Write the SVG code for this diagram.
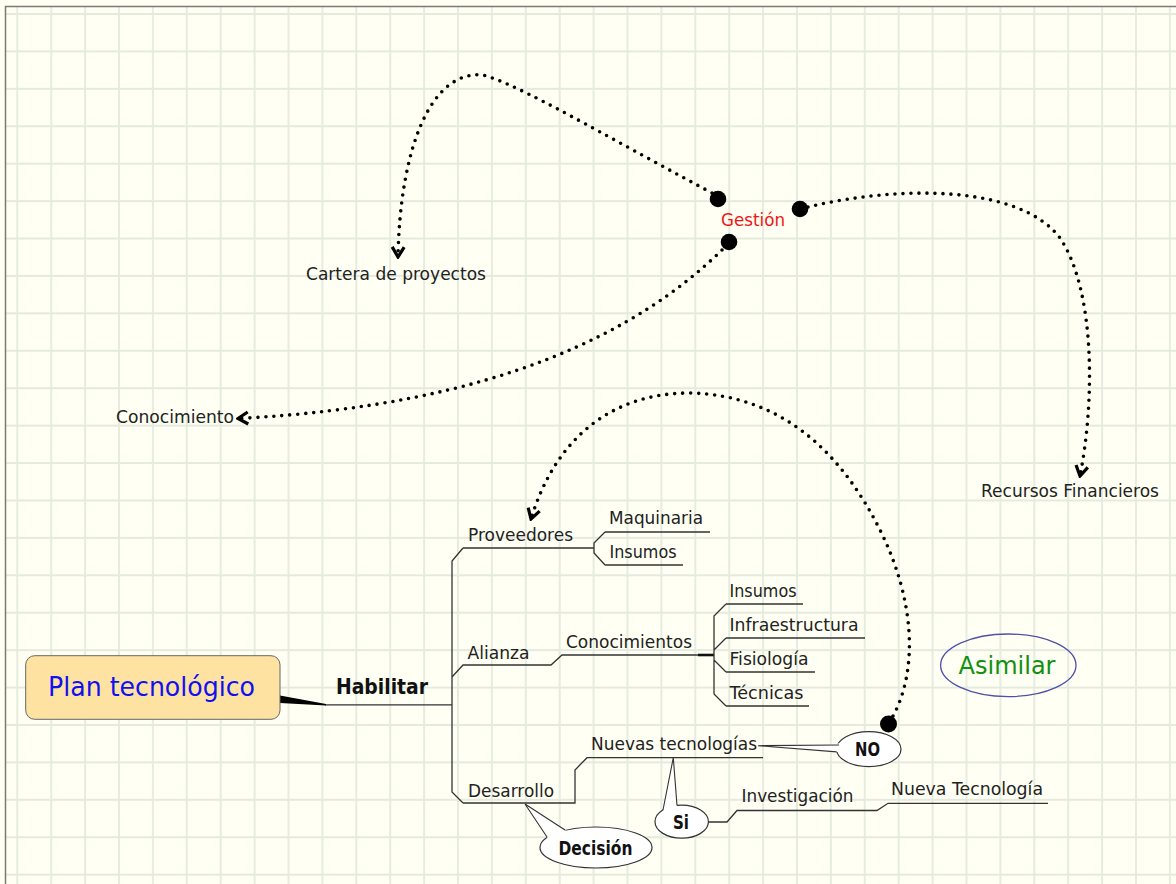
<svg xmlns="http://www.w3.org/2000/svg" width="1176" height="884" viewBox="0 0 1176 884">
<defs>
<pattern id="grid" patternUnits="userSpaceOnUse" x="0.35" y="-4.71" width="33.9" height="37.42">
<path d="M16.95,0 V37.42 M0,18.71 H33.9" stroke="#e4ebde" stroke-width="1.8" fill="none"/>
</pattern>
<marker id="chev" viewBox="-13 -8 15 16" refX="0" refY="0" markerWidth="15" markerHeight="16" markerUnits="userSpaceOnUse" orient="auto">
<path d="M-10,-6 L0,0 L-10,6" fill="none" stroke="#000" stroke-width="3.2" stroke-linejoin="miter"/>
</marker>
<style>
text{font-family:"DejaVu Sans","Liberation Sans",sans-serif;fill:#222}
.t{font-size:18px}
.b{font-size:20px;font-weight:bold;fill:#111}
.ln{fill:none;stroke:#333;stroke-width:1.3}
.dot{fill:none;stroke:#000;stroke-width:3.6;stroke-linecap:round;stroke-dasharray:0 8;marker-end:url(#chev)}
.call{fill:#fff;stroke:#333;stroke-width:1.2}
</style>
</defs>
<rect width="1176" height="884" fill="#fffff3"/>
<rect x="6" y="7" width="1170" height="877" fill="url(#grid)"/>
<path d="M5.5,884 V6.5 H1176" fill="none" stroke="#7a7a7a" stroke-width="1.5"/>

<g id="connectors">
<path class="ln" d="M325,704.8 H452"/>
<polygon points="280,695.5 326,704 326,705.6 280,703" fill="#000"/>
<path class="ln" d="M463,548 L452,561 V792 L463,803"/>
<path class="ln" d="M463,548 H594 M605,532 L594,543 V553 L605,565 M605,532 H710 M605,565 H683"/>
<path class="ln" d="M452,677 L463,665 H551 L562,655 H698"/>
<path d="M698,655 H714" stroke="#111" stroke-width="2.6"/>
<path class="ln" d="M726,604 L714,616 V694 L726,706 M714,650 L726,638 M714,660 L726,672 M726,604 H803 M726,638 H865 M726,672 H815 M726,706 H809"/>
<path class="ln" d="M463,803 H575 V770 L587,757.7 H763"/>
<path class="ln" d="M708,822 H727 L737,810.5 H877 L888,803.3 H1048"/>
<path class="dot" d="M712,193 C600,133 520,85 483,75 C430,70 400,150 398,257"/>
<path class="dot" d="M722,250 C640,330 500,405 238,418.5"/>
<path class="dot" d="M808,207 C900,185 1020,185 1060,238 C1095,290 1095,400 1080,476"/>
<path class="dot" d="M893,716 C918,670 915,600 880,530 C840,450 780,395 690,393 C610,393 555,440 531,519"/>
<circle cx="718" cy="199" r="8.3" fill="#000"/>
<circle cx="729" cy="242" r="8.3" fill="#000"/>
<circle cx="800" cy="209" r="8.3" fill="#000"/>
<circle cx="888.5" cy="724" r="8.5" fill="#000"/>
</g>

<g id="plan">
<rect x="25.7" y="655.7" width="254.3" height="63.6" rx="9" fill="#fde2a2" stroke="#666" stroke-width="1"/>
<text x="48" y="696" textLength="207" lengthAdjust="spacingAndGlyphs" style="font-size:27px;fill:#1010f0">Plan tecnológico</text>
</g>
<g id="habilitar"><text x="336" y="694" textLength="92" lengthAdjust="spacingAndGlyphs" style="font-size:22px;font-weight:bold;fill:#111">Habilitar</text></g>
<g id="gestion"><text x="721" y="226" class="t" textLength="64" lengthAdjust="spacingAndGlyphs" style="fill:#f01414">Gestión</text></g>
<g id="cartera"><text x="306" y="280" class="t" textLength="180" lengthAdjust="spacingAndGlyphs">Cartera de proyectos</text></g>
<g id="conocimiento"><text x="116" y="423" class="t" textLength="118" lengthAdjust="spacingAndGlyphs">Conocimiento</text></g>
<g id="recursos"><text x="981" y="497" class="t" textLength="178" lengthAdjust="spacingAndGlyphs">Recursos Financieros</text></g>
<g id="proveedores"><text x="468" y="541" class="t" textLength="105" lengthAdjust="spacingAndGlyphs">Proveedores</text></g>
<g id="maquinaria"><text x="609" y="524" class="t" textLength="94" lengthAdjust="spacingAndGlyphs">Maquinaria</text></g>
<g id="insumos1"><text x="609.5" y="558" class="t" textLength="67" lengthAdjust="spacingAndGlyphs">Insumos</text></g>
<g id="alianza"><text x="467.5" y="659" class="t" textLength="62" lengthAdjust="spacingAndGlyphs">Alianza</text></g>
<g id="conocimientos"><text x="566" y="648" class="t" textLength="126" lengthAdjust="spacingAndGlyphs">Conocimientos</text></g>
<g id="insumos2"><text x="729.5" y="597" class="t" textLength="67" lengthAdjust="spacingAndGlyphs">Insumos</text></g>
<g id="infraestructura"><text x="729.5" y="631" class="t" textLength="129" lengthAdjust="spacingAndGlyphs">Infraestructura</text></g>
<g id="fisiologia"><text x="729.5" y="665" class="t" textLength="79" lengthAdjust="spacingAndGlyphs">Fisiología</text></g>
<g id="tecnicas"><text x="729.5" y="699" class="t" textLength="74" lengthAdjust="spacingAndGlyphs">Técnicas</text></g>
<g id="desarrollo"><text x="468" y="797" class="t" textLength="86" lengthAdjust="spacingAndGlyphs">Desarrollo</text></g>
<g id="nuevas"><text x="591" y="750" class="t" textLength="166" lengthAdjust="spacingAndGlyphs">Nuevas tecnologías</text></g>
<g id="investigacion"><text x="741.5" y="802" class="t" textLength="112" lengthAdjust="spacingAndGlyphs">Investigación</text></g>
<g id="nuevatec"><text x="891" y="795" class="t" textLength="152" lengthAdjust="spacingAndGlyphs">Nueva Tecnología</text></g>

<g id="no">
<ellipse class="call" cx="868.8" cy="749.2" rx="32.2" ry="17.5"/>
<polygon points="758,745.7 839,743.5 842,746 840,752 837,752" fill="#fff"/>
<path class="ln" d="M839,745 L758,745.7 L836.7,751.9" style="stroke-width:1.1"/>
<text x="855" y="756" textLength="25" lengthAdjust="spacingAndGlyphs" class="b">NO</text>
</g>
<g id="si">
<ellipse class="call" cx="681.7" cy="821.7" rx="26.7" ry="16.5"/>
<polygon points="673.3,757.7 663,810 666,813 678,808 677,805.5" fill="#fff"/>
<path class="ln" d="M663,810 L673.3,757.7 L677,805.5" style="stroke-width:1.1"/>
<text x="673" y="829" textLength="16" lengthAdjust="spacingAndGlyphs" class="b">Si</text>
</g>
<g id="decision">
<ellipse class="call" cx="596" cy="847.5" rx="56" ry="20.5"/>
<polygon points="525,804 547,837 550,841 568,834 565,830" fill="#fff"/>
<path class="ln" d="M547,837 L525,804 L565,830" style="stroke-width:1.1"/>
<text x="558.5" y="855" textLength="74" lengthAdjust="spacingAndGlyphs" class="b">Decisión</text>
</g>
<g id="asimilar">
<ellipse cx="1008.3" cy="665.3" rx="67.7" ry="31.3" fill="none" stroke="#5050a8" stroke-width="1.3"/>
<text x="958.5" y="674" textLength="97" lengthAdjust="spacingAndGlyphs" style="font-size:25px;fill:#129012">Asimilar</text>
</g>
</svg>
